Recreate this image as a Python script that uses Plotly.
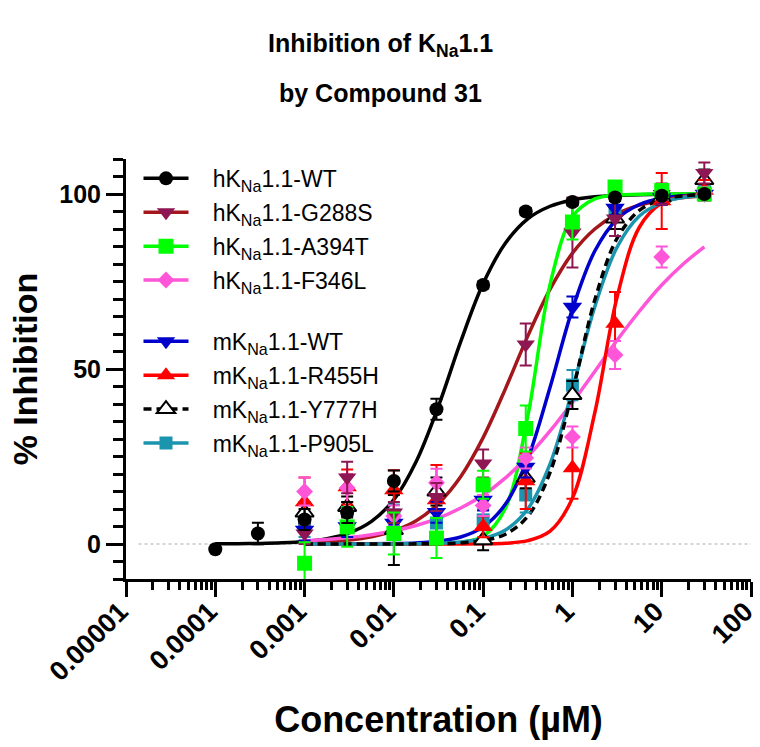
import plotly.graph_objects as go

# ---------------- data ----------------
conc_h = [0.0001, 0.0003, 0.001, 0.003, 0.01, 0.03, 0.1, 0.3, 1, 3, 10, 30]
conc = [0.001, 0.003, 0.01, 0.03, 0.1, 0.3, 1, 3, 10, 30]

hWT = [-1.5, 3.0, 7.0, 9.0, 18.0, 38.5, 74.0, 95.0, 97.7, 99.0, 99.5, 100.0]
hWT_err = [0, 3.1, 3, 3, 3, 3, 1, 1, 1, 1, 1, 1]
G288S = [3.0, 19.0, 9.0, 13.4, 23.0, 57.0, 89.0, 93.0, 100.0, 106.0]
G288S_err = [3, 4.5, 3, 4, 4, 6, 10, 5, 3, 3]
A394T = [-5.5, 4.9, 3.0, 1.7, 16.9, 33.0, 92.0, 102.0, 101.0, 100.0]
A394T_err = [6, 5.7, 6, 5.7, 4, 6.6, 5, 1, 1, 1]
F346L = [15.0, 16.0, 8.0, 17.5, 11.0, 24.6, 30.6, 54.0, 82.0, 100.0]
F346L_err = [4, 4, 3, 4, 3, 3, 3, 4, 3, 2]
mWT = [4.0, 5.0, 6.0, 9.1, 12.6, 22.0, 67.7, 96.0, 99.0, 100.0]
mWT_err = [3, 3, 3, 3, 3, 3, 3, 2, 2, 2]
R455H = [12.0, 16.3, 15.4, 12.6, 4.9, 18.0, 21.7, 63.0, 98.0, 101.0]
R455H_err = [7, 5, 5.7, 10, 3, 8, 8.8, 9, 8, 3]
Y777H = [9.0, 10.6, 4.0, 15.0, 1.1, 18.9, 42.6, 93.0, 99.0, 104.0]
Y777H_err = [3, 3, 10, 4, 2.9, 3, 4, 3, 2, 3]
P905L = [5.0, 5.0, 8.3, 6.0, 6.9, 14.0, 45.4, 95.0, 99.0, 101.0]
P905L_err = [3, 3, 3, 3, 3, 5, 4.3, 3, 2, 2]

# fitted curves
curve_conc = [0.0001, 0.000178, 0.000316, 0.000562, 0.001, 0.00178, 0.00316, 0.00562,
              0.01, 0.0178, 0.0316, 0.0562, 0.1, 0.178, 0.316, 0.562, 1, 1.78, 3.16,
              5.62, 10, 17.8, 30]
curve_conc_m = curve_conc[4:]
hWT_fit = [0.04, 0.08, 0.16, 0.35, 0.73, 1.52, 3.16, 6.45, 12.7, 23.6, 39.4, 57.9, 74.4,
           86.0, 92.9, 96.5, 98.3, 99.2, 99.6, 99.8, 99.9, 99.96, 99.98]
G288S_fit = [0.35, 0.63, 1.15, 2.08, 3.75, 6.65, 11.6, 19.3, 30.4, 44.4, 59.4, 72.8, 83.1,
             90.0, 94.3, 96.8, 98.2, 99.0, 99.4]
A394T_fit = [0.0, 0.0, 0.0, 0.0, 0.004, 0.02, 0.09, 0.45, 2.2, 10.3, 36.5, 74.2, 93.5,
             98.6, 99.7, 99.9, 100, 100, 100]
F346L_fit = [0.93, 1.32, 1.88, 2.67, 3.77, 5.30, 7.40, 10.3, 14.0, 18.9, 25.0, 32.3, 40.5,
             49.3, 58.2, 66.5, 74.0, 80.2, 84.9]
mWT_fit = [0.003, 0.008, 0.02, 0.05, 0.13, 0.32, 0.81, 2.0, 4.9, 11.4, 24.4, 44.8, 67.1,
           83.7, 92.8, 97.0, 98.8, 99.5, 99.8]
R455H_fit = [0, 0, 0, 0, 0, 0.001, 0.004, 0.015, 0.06, 0.24, 0.95, 3.66, 13.1, 37.5, 70.5,
             90.5, 97.4, 99.3, 99.8]
Y777H_fit = [0, 0, 0, 0.004, 0.012, 0.036, 0.11, 0.32, 0.97, 2.8, 7.9, 20.5, 43.5, 69.7,
             87.3, 95.3, 98.4, 99.5, 99.8]
P905L_fit = [0, 0, 0.004, 0.012, 0.03, 0.08, 0.22, 0.59, 1.56, 4.0, 10.0, 22.9, 44.1, 67.8,
             84.8, 93.7, 97.5, 99.1, 99.6]

tick_vals = [0.00001, 0.0001, 0.001, 0.01, 0.1, 1, 10, 100]
tick_text = ["0.00001", "0.0001", "0.001", "0.01", "0.1", "1", "10", "100"]

# ---------------- styling ----------------
FONT = "Liberation Sans"
K = "K<sub>Na</sub>1.1-"
series = [
    # name, x, y, err, fitx, fity, line color, marker color, symbol, size, dash, legend
    ("h" + K + "WT", conc_h, hWT, hWT_err, curve_conc, hWT_fit, "#000000", "#000000", "circle", 14, "solid", "legend"),
    ("h" + K + "G288S", conc, G288S, G288S_err, curve_conc_m, G288S_fit, "#A3171C", "#8E1652", "triangle-down", 16, "solid", "legend"),
    ("h" + K + "A394T", conc, A394T, A394T_err, curve_conc_m, A394T_fit, "#00FF00", "#00FF00", "square", 15, "solid", "legend"),
    ("h" + K + "F346L", conc, F346L, F346L_err, curve_conc_m, F346L_fit, "#FF55D8", "#FF55D8", "diamond", 13, "solid", "legend"),
    ("m" + K + "WT", conc, mWT, mWT_err, curve_conc_m, mWT_fit, "#0000CC", "#0000CC", "triangle-down", 17, "solid", "legend2"),
    ("m" + K + "R455H", conc, R455H, R455H_err, curve_conc_m, R455H_fit, "#FF0000", "#FF0000", "triangle-up", 17, "solid", "legend2"),
    ("m" + K + "Y777H", conc, Y777H, Y777H_err, curve_conc_m, Y777H_fit, "#000000", "#000000", "triangle-up", 16, "8px,5px", "legend2"),
    ("m" + K + "P905L", conc, P905L, P905L_err, curve_conc_m, P905L_fit, "#1B95AE", "#1B95AE", "square", 13, "solid", "legend2"),
]

fig = go.Figure()

# curves (teal before dashed black so the dashes sit on top)
for i in [0, 1, 2, 3, 4, 5, 7, 6]:
    name, x, y, e, fx, fy, lc, mc, sym, sz, dash, lg = series[i]
    fig.add_trace(go.Scatter(x=fx, y=fy, mode="lines",
                             line=dict(color=lc, width=3.5, dash=dash, shape="spline"),
                             showlegend=False, hoverinfo="skip"))

# points with error bars
for i in [7, 6, 5, 4, 3, 1, 2, 0]:
    name, x, y, e, fx, fy, lc, mc, sym, sz, dash, lg = series[i]
    open_sym = (i == 6)
    fig.add_trace(go.Scatter(
        x=x, y=y, mode="markers",
        marker=dict(symbol=sym, size=sz, color="white" if open_sym else mc,
                    line=dict(color=mc, width=2 if open_sym else 0)),
        error_y=dict(type="data", array=e, color=mc, thickness=2, width=6),
        showlegend=False))

# legend entries
for k, (name, x, y, e, fx, fy, lc, mc, sym, sz, dash, lg) in enumerate(series):
    open_sym = name.endswith("Y777H")
    fig.add_trace(go.Scatter(
        x=[None], y=[None], mode="lines+markers", name="\u00a0\u00a0\u00a0" + name,
        legend=lg, legendgroup="g%d" % k,
        line=dict(color=lc, width=3.5, dash=dash),
        marker=dict(symbol=sym, size=sz, color="white" if open_sym else mc,
                    line=dict(color=mc, width=2 if open_sym else 0))))

axis_common = dict(showline=True, linecolor="black", linewidth=3, ticks="outside",
                   tickwidth=3, tickcolor="black", showgrid=False, zeroline=False,
                   automargin=False, ticklabeloverflow="allow")

legend_common = dict(xanchor="left", yanchor="top", bgcolor="rgba(0,0,0,0)",
                     font=dict(family=FONT, size=23, color="black"), itemwidth=45,
                     traceorder="grouped", tracegroupgap=1)

fig.update_layout(
    width=760, height=747,
    margin=dict(l=126, r=9, t=159, b=168),
    paper_bgcolor="white", plot_bgcolor="white",
    font=dict(family=FONT, color="black"),
    xaxis=dict(type="log", range=[-5, 2], tickvals=tick_vals, ticktext=tick_text,
               tickangle=-45, ticklen=15, ticklabelstandoff=-12, ticklabelshift=-6,
               tickfont=dict(family=FONT, size=27, color="black", weight="bold"),
               minor=dict(ticks="outside", ticklen=8, tickwidth=2.5, tickcolor="black", dtick="D1"),
               title=dict(text="Concentration (µM)", font=dict(family=FONT, size=36, weight="bold", color="black"),
                          standoff=22),
               **axis_common),
    yaxis=dict(range=[-10, 110], tickvals=[0, 50, 100], ticklen=17,
               tickfont=dict(family=FONT, size=25, color="black", weight="bold"),
               minor=dict(ticks="outside", ticklen=10, tickwidth=2.5, tickcolor="black", dtick=5),
               title=dict(text="% Inhibition", font=dict(family=FONT, size=34, weight="bold", color="black"),
                          standoff=12),
               **axis_common),
    legend=dict(x=0.02, y=1.005, **legend_common),
    legend2=dict(x=0.02, y=0.617, **legend_common),
    shapes=[dict(type="line", xref="paper", yref="y", x0=0.02, x1=1, y0=0, y1=0,
                 line=dict(color="#C8C8C8", width=1.5, dash="dot"), layer="below")],
    annotations=[
        dict(text="Inhibition of K<sub>Na</sub>1.1", xref="paper", yref="paper",
             x=(380 - 126) / 625, y=(579 - 45) / 420, xanchor="center", yanchor="middle",
             showarrow=False, font=dict(family=FONT, size=25, weight="bold", color="black")),
        dict(text="by Compound 31", xref="paper", yref="paper",
             x=(380 - 126) / 625, y=(579 - 93) / 420, xanchor="center", yanchor="middle",
             showarrow=False, font=dict(family=FONT, size=25, weight="bold", color="black")),
    ],
)

fig.write_html("out.html", config={"displayModeBar": False},
               post_script="document.body.style.margin='0px';")
